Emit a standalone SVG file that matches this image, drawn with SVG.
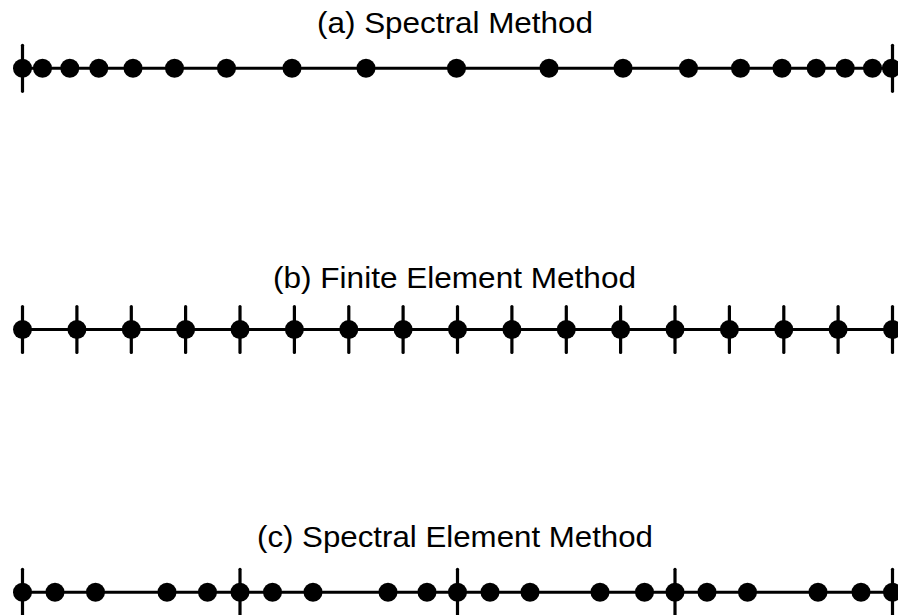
<svg xmlns="http://www.w3.org/2000/svg" xmlns:xlink="http://www.w3.org/1999/xlink" width="898" height="615" viewBox="0 0 898 615">
<style>
.title{font-family:"Liberation Sans",Arial,sans-serif;font-size:29px;fill:#000;text-anchor:middle}
.axis{stroke:#000;stroke-width:3;fill:none}
.tick{stroke:#000;stroke-width:3.2;stroke-linecap:round}
.dot{fill:#000}
</style>
<defs>
<circle id="d" r="9.5" class="dot"/>
<line id="t" x1="0" y1="-23" x2="0" y2="23" class="tick"/>
</defs>
<rect width="898" height="615" fill="#fff"/>

<g id="spectral">
<text class="title" x="455" y="33.3" textLength="276" lengthAdjust="spacingAndGlyphs">(a) Spectral Method</text>
<line class="axis" x1="22.5" y1="68.3" x2="892.5" y2="68.3"/>
<g transform="translate(0,68.3)">
<use xlink:href="#t" x="22.5"/><use xlink:href="#t" x="892.5"/>
<use xlink:href="#d" x="22.5"/><use xlink:href="#d" x="42.5"/><use xlink:href="#d" x="69.8"/><use xlink:href="#d" x="98.8"/><use xlink:href="#d" x="133"/><use xlink:href="#d" x="174.5"/><use xlink:href="#d" x="226.5"/><use xlink:href="#d" x="292"/><use xlink:href="#d" x="366"/><use xlink:href="#d" x="456.5"/><use xlink:href="#d" x="549"/><use xlink:href="#d" x="623"/><use xlink:href="#d" x="688.5"/><use xlink:href="#d" x="740.5"/><use xlink:href="#d" x="782"/><use xlink:href="#d" x="816.2"/><use xlink:href="#d" x="845.2"/><use xlink:href="#d" x="872.5"/><use xlink:href="#d" x="891.5"/>
</g>
</g>

<g id="finite-element">
<text class="title" x="454.5" y="287.8" textLength="363" lengthAdjust="spacingAndGlyphs">(b) Finite Element Method</text>
<line class="axis" x1="22.5" y1="329.5" x2="892.5" y2="329.5"/>
<g transform="translate(0,329.5)">
<use xlink:href="#t" x="22.5"/><use xlink:href="#d" x="22.5"/>
<use xlink:href="#t" x="76.9"/><use xlink:href="#d" x="76.9"/>
<use xlink:href="#t" x="131.3"/><use xlink:href="#d" x="131.3"/>
<use xlink:href="#t" x="185.6"/><use xlink:href="#d" x="185.6"/>
<use xlink:href="#t" x="240"/><use xlink:href="#d" x="240"/>
<use xlink:href="#t" x="294.4"/><use xlink:href="#d" x="294.4"/>
<use xlink:href="#t" x="348.8"/><use xlink:href="#d" x="348.8"/>
<use xlink:href="#t" x="403.1"/><use xlink:href="#d" x="403.1"/>
<use xlink:href="#t" x="457.5"/><use xlink:href="#d" x="457.5"/>
<use xlink:href="#t" x="511.9"/><use xlink:href="#d" x="511.9"/>
<use xlink:href="#t" x="566.3"/><use xlink:href="#d" x="566.3"/>
<use xlink:href="#t" x="620.6"/><use xlink:href="#d" x="620.6"/>
<use xlink:href="#t" x="675"/><use xlink:href="#d" x="675"/>
<use xlink:href="#t" x="729.4"/><use xlink:href="#d" x="729.4"/>
<use xlink:href="#t" x="783.8"/><use xlink:href="#d" x="783.8"/>
<use xlink:href="#t" x="838.1"/><use xlink:href="#d" x="838.1"/>
<use xlink:href="#t" x="892.5"/><use xlink:href="#d" x="892.5"/>
</g>
</g>

<g id="spectral-element">
<text class="title" x="455" y="547" textLength="396" lengthAdjust="spacingAndGlyphs">(c) Spectral Element Method</text>
<line class="axis" x1="22.5" y1="592.3" x2="892.5" y2="592.3"/>
<g transform="translate(0,592.3)">
<use xlink:href="#t" x="22.5"/><use xlink:href="#t" x="240"/><use xlink:href="#t" x="457.5"/><use xlink:href="#t" x="675"/><use xlink:href="#t" x="892.5"/>
<use xlink:href="#d" x="22.5"/><use xlink:href="#d" x="55"/><use xlink:href="#d" x="95.5"/><use xlink:href="#d" x="167"/><use xlink:href="#d" x="207.5"/>
<use xlink:href="#d" x="240"/><use xlink:href="#d" x="272.5"/><use xlink:href="#d" x="313"/><use xlink:href="#d" x="388"/><use xlink:href="#d" x="427"/>
<use xlink:href="#d" x="457.5"/><use xlink:href="#d" x="490"/><use xlink:href="#d" x="530"/><use xlink:href="#d" x="600"/><use xlink:href="#d" x="644.5"/>
<use xlink:href="#d" x="675"/><use xlink:href="#d" x="707"/><use xlink:href="#d" x="747.5"/><use xlink:href="#d" x="818"/><use xlink:href="#d" x="861"/>
<use xlink:href="#d" x="892.5"/>
</g>
</g>
</svg>
